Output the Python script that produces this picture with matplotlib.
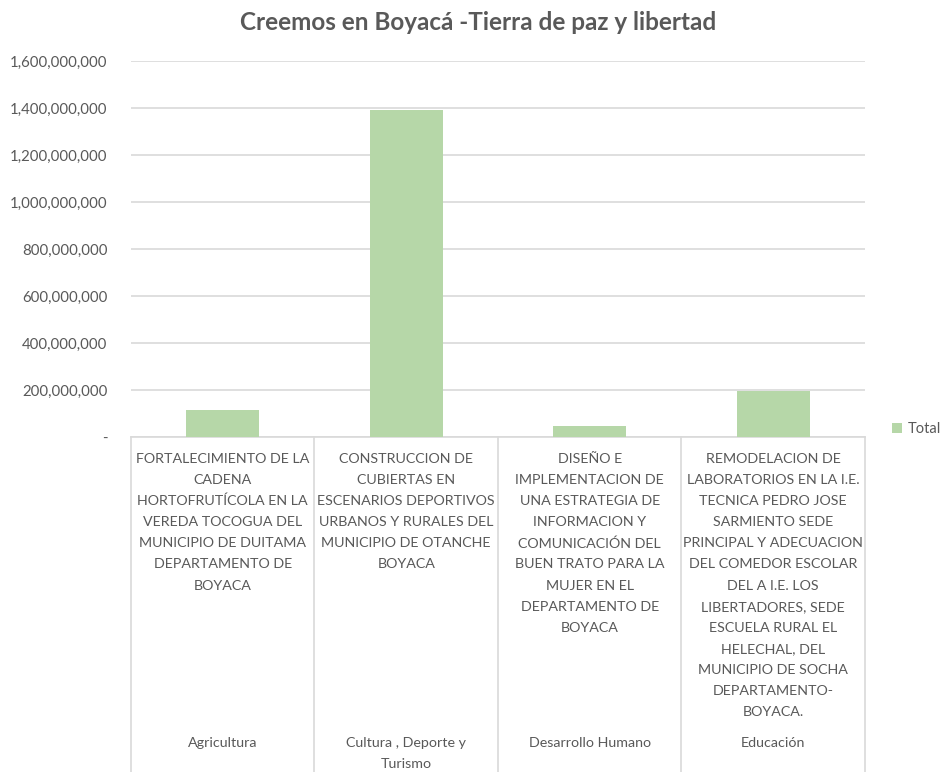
import matplotlib
matplotlib.use("Agg")
import matplotlib.pyplot as plt
from matplotlib.transforms import blended_transform_factory
from matplotlib.ticker import FuncFormatter

plt.rcParams['font.family'] = ['Lato', 'DejaVu Sans']

sectors = ["Agricultura", "Cultura , Deporte y\nTurismo", "Desarrollo Humano", "Educación"]
projects = [
    "FORTALECIMIENTO DE LA\nCADENA\nHORTOFRUTÍCOLA EN LA\nVEREDA TOCOGUA DEL\nMUNICIPIO DE DUITAMA\nDEPARTAMENTO DE\nBOYACA",
    "CONSTRUCCION DE\nCUBIERTAS EN\nESCENARIOS DEPORTIVOS\nURBANOS Y RURALES DEL\nMUNICIPIO DE OTANCHE\nBOYACA",
    "DISEÑO E\nIMPLEMENTACION DE\nUNA ESTRATEGIA DE\nINFORMACION Y\nCOMUNICACIÓN DEL\nBUEN TRATO PARA LA\nMUJER EN EL\nDEPARTAMENTO DE\nBOYACA",
    "REMODELACION DE\nLABORATORIOS EN LA I.E.\nTECNICA PEDRO JOSE\nSARMIENTO SEDE\nPRINCIPAL Y ADECUACION\nDEL COMEDOR ESCOLAR\nDEL A I.E. LOS\nLIBERTADORES, SEDE\nESCUELA RURAL EL\nHELECHAL, DEL\nMUNICIPIO DE SOCHA\nDEPARTAMENTO-\nBOYACA.",
]
totals = [113_000_000, 1_390_000_000, 48_000_000, 197_000_000]
yticks = [0, 200_000_000, 400_000_000, 600_000_000, 800_000_000,
          1_000_000_000, 1_200_000_000, 1_400_000_000, 1_600_000_000]

W, H = 945, 772
fig = plt.figure(figsize=(W / 100, H / 100), dpi=100)
ax = fig.add_axes([131 / W, 1 - 437 / H, (865 - 131) / W, (437 - 61) / H])

txt = "#595959"
bar_color = "#b6d7a8"
grid = "#d9d9d9"

x = list(range(len(totals)))
ax.bar(x, totals, width=0.4, color=bar_color, zorder=3, label="Total")
ax.set_xlim(-0.5, len(totals) - 0.5)
ax.set_ylim(0, 1_600_000_000)
ax.set_yticks(yticks)
ax.yaxis.set_major_formatter(FuncFormatter(lambda v, p: "-" if v == 0 else f"{int(v):,}"))
ax.tick_params(axis="y", length=0, pad=17, labelsize=10.8, labelcolor=txt)
ax.set_xticks([])
ax.grid(axis="y", color=grid, linewidth=1.2, zorder=0)
for s in ["top", "right", "left"]:
    ax.spines[s].set_visible(False)
ax.spines["bottom"].set_color(grid)
ax.spines["bottom"].set_linewidth(1.2)

# category boxes
trans = blended_transform_factory(ax.transData, fig.transFigure)
for b in [i - 0.5 for i in range(len(totals) + 1)]:
    ax.plot([b, b], [1 - 437 / H, 0], transform=trans, color=grid, lw=1.2, clip_on=False)

LINE = 21.1
for i, (p, s) in enumerate(zip(projects, sectors)):
    for k, line in enumerate(p.split("\n")):
        ax.text(i, 1 - (459 + k * LINE) / H, line, transform=trans, ha="center",
                va="center", fontsize=10.3, color=txt)
    for k, line in enumerate(s.split("\n")):
        ax.text(i, 1 - (743 + k * LINE) / H, line, transform=trans, ha="center",
                va="center", fontsize=10.3, color=txt)

fig.text(478 / W, 1 - 23 / H, "Creemos en Boyacá -Tierra de paz y libertad", ha="center",
         va="center", fontsize=17.5, fontweight="bold", color=txt)

leg = fig.legend(loc="center left", bbox_to_anchor=(892 / W, 1 - 429 / H), frameon=False,
                 fontsize=10.5, handlelength=0.7, handleheight=0.7, handletextpad=0.4,
                 borderpad=0, borderaxespad=0)
for t in leg.get_texts():
    t.set_color(txt)

fig.savefig("out.png", dpi=100, facecolor="white")
